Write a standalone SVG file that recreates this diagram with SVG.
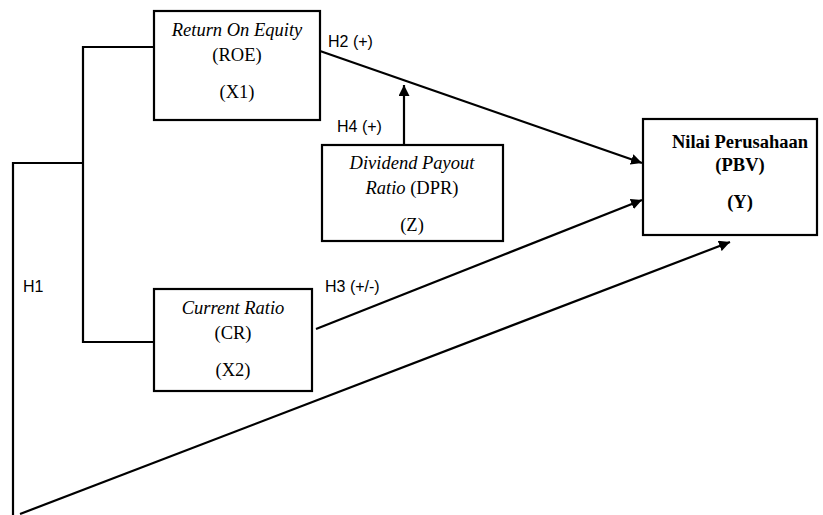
<svg xmlns="http://www.w3.org/2000/svg" width="823" height="515" viewBox="0 0 823 515">
<defs>
<marker id="ah" viewBox="0 0 10 10" refX="10" refY="5" markerWidth="5" markerHeight="5" orient="auto" markerUnits="strokeWidth">
<path d="M0,0 L10,5 L0,10 z" fill="#000"/>
</marker>
<style>
.box{fill:#fff;stroke:#000;stroke-width:2.2}
.ln{fill:none;stroke:#000;stroke-width:2.2}
.ar{fill:none;stroke:#000;stroke-width:2.2;marker-end:url(#ah)}
.t{font-family:"Liberation Serif","Times New Roman",serif;font-size:18.5px;text-anchor:middle;fill:#000}
.i{font-style:italic}
.b{font-weight:bold}
.lab{font-family:"Liberation Sans",Arial,sans-serif;font-size:16px;fill:#000}
</style>
</defs>
<rect width="823" height="515" fill="#fff"/>
<g id="connectors">
<polyline class="ln" points="154,47 83,47 83,342 154,342"/>
<polyline class="ln" points="83,163 13,163 13,515"/>
<line class="ar" x1="320" y1="51" x2="642" y2="163"/>
<line class="ar" x1="404" y1="145" x2="404" y2="85"/>
<line class="ar" x1="316" y1="329" x2="642" y2="200"/>
<line class="ar" x1="20" y1="514" x2="730" y2="242"/>
<text class="lab" x="328" y="47">H2 (+)</text>
<text class="lab" x="337" y="132">H4 (+)</text>
<text class="lab" x="23" y="292">H1</text>
<text class="lab" x="325" y="292">H3 (+/-)</text>
</g>
<g id="roe">
<rect class="box" x="154" y="11" width="166" height="109"/>
<text class="t i" x="237" y="36">Return On Equity</text>
<text class="t" x="237" y="61">(ROE)</text>
<text class="t" x="237" y="98">(X1)</text>
</g>
<g id="dpr">
<rect class="box" x="322" y="145" width="181" height="96"/>
<text class="t i" x="412" y="169">Dividend Payout</text>
<text class="t" x="412" y="194"><tspan class="i">Ratio</tspan> (DPR)</text>
<text class="t" x="412" y="231">(Z)</text>
</g>
<g id="cr">
<rect class="box" x="154" y="289" width="158" height="102"/>
<text class="t i" x="233" y="314">Current Ratio</text>
<text class="t" x="233" y="339">(CR)</text>
<text class="t" x="233" y="376">(X2)</text>
</g>
<g id="y">
<rect class="box" x="643" y="119" width="174" height="116"/>
<text class="t b" x="740" y="148">Nilai Perusahaan</text>
<text class="t b" x="740" y="171">(PBV)</text>
<text class="t b" x="740" y="208">(Y)</text>
</g>
</svg>
